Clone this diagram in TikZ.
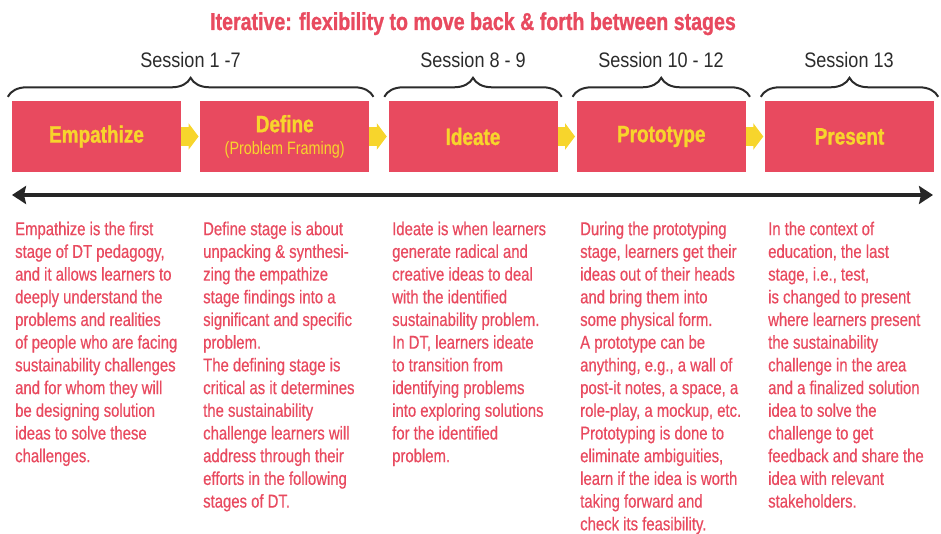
\documentclass[tikz,border=0pt]{standalone}
\usepackage{fontspec}
\setmainfont{Liberation Sans}[FakeStretch=0.8, BoldFeatures={FakeBold=1}]
\newfontfamily\sessfont{Liberation Sans}[FakeStretch=0.86]
\newfontfamily\bodyfont{Liberation Sans}[FakeStretch=0.8, FakeBold=0.5]
\usetikzlibrary{arrows.meta,decorations.pathreplacing}
\definecolor{dtred}{HTML}{E84A5F}
\definecolor{dtyellow}{HTML}{F7D52C}
\definecolor{dtdark}{HTML}{2B2B2B}
\newcommand{\dtsub}{\fontsize{18}{20}\selectfont\mdseries}
\begin{document}
\begin{tikzpicture}[x=1pt,y=-1pt,
  stage/.style={fill=dtred, minimum width=169pt, minimum height=71pt, inner sep=0pt,
    text=dtyellow, font=\fontsize{23.7}{24}\selectfont\bfseries, align=center},
  session/.style={font=\sessfont\fontsize{21}{24}\selectfont, text=dtdark, inner sep=0pt, anchor=base},
  bracebar/.style={decorate, decoration={brace, amplitude=19pt}, line width=2pt, draw=dtdark},
  ylarrow/.style={draw=dtyellow, line width=19pt, -{Triangle[length=10pt,width=26pt]}, shorten >=1.5pt},
  backforth/.style={draw=black!85, line width=3.5pt,
    {Stealth[length=14pt,width=18pt,inset=2pt]}-{Stealth[length=14pt,width=18pt,inset=2pt]}},
  body/.style={font=\bodyfont\fontsize{18.6}{22.7}\selectfont, text=dtred, align=left, anchor=north west, inner sep=0pt},
  titletext/.style={font=\fontsize{24.5}{28}\selectfont\bfseries, text=dtred, inner sep=0pt, anchor=base}
]
\useasboundingbox (0,0) rectangle (941,534);

% title
\node[titletext] (title) at (473,30) {Iterative: flexibility to move back \& forth between stages};

% stage boxes
\node[stage] (emp) at (96.5,136.5) {Empathize};
\node[stage] (def) at (284.75,136.5) {Define\\[-2pt]{\dtsub (Problem Framing)}};
\node[stage] (ide) at (473,136.5) {Ideate};
\node[stage] (pro) at (661.25,136.5) {Prototype};
\node[stage] (pre) at (849.5,136.5) {Present};

% yellow arrows between stages
\draw[ylarrow] (emp.east) -- (def.west);
\draw[ylarrow] (def.east) -- (ide.west);
\draw[ylarrow] (ide.east) -- (pro.west);
\draw[ylarrow] (pro.east) -- (pre.west);

% braces
\draw[bracebar] ([shift={(-4pt,4pt)}]emp.north west) -- ([shift={(4pt,4pt)}]def.north east);
\draw[bracebar] ([shift={(-4pt,4pt)}]ide.north west) -- ([shift={(4pt,4pt)}]ide.north east);
\draw[bracebar] ([shift={(-4pt,4pt)}]pro.north west) -- ([shift={(4pt,4pt)}]pro.north east);
\draw[bracebar] ([shift={(-4pt,4pt)}]pre.north west) -- ([shift={(4pt,4pt)}]pre.north east);

% session labels
\node[session] (s1) at (190.5,68) {Session 1 -7};
\node[session] (s2) at (473,68) {Session 8 - 9};
\node[session] (s3) at (661,68) {Session 10 - 12};
\node[session] (s4) at (849,68) {Session 13};

% back and forth arrow
\coordinate (bfl) at (12,195);
\coordinate (bfr) at (933,195);
\draw[backforth] (bfl) -- (bfr);

% descriptions
\node[body] (t1) at (15,221.5) {Empathize is the first\\stage of DT pedagogy,\\and it allows learners to\\deeply understand the\\problems and realities\\of people who are facing\\sustainability challenges\\and for whom they will\\be designing solution\\ideas to solve these\\challenges.};
\node[body] (t2) at (203,221.5) {Define stage is about\\unpacking \& synthesi-\\zing the empathize\\stage findings into a\\significant and specific\\problem.\\The defining stage is\\critical as it determines\\the sustainability\\challenge learners will\\address through their\\efforts in the following\\stages of DT.};
\node[body] (t3) at (392,221.5) {Ideate is when learners\\generate radical and\\creative ideas to deal\\with the identified\\sustainability problem.\\In DT, learners ideate\\to transition from\\identifying problems\\into exploring solutions\\for the identified\\problem.};
\node[body] (t4) at (580,221.5) {During the prototyping\\stage, learners get their\\ideas out of their heads\\and bring them into\\some physical form.\\A prototype can be\\anything, e.g., a wall of\\post-it notes, a space, a\\role-play, a mockup, etc.\\Prototyping is done to\\eliminate ambiguities,\\learn if the idea is worth\\taking forward and\\check its feasibility.};
\node[body] (t5) at (768,221.5) {In the context of\\education, the last\\stage, i.e., test,\\is changed to present\\where learners present\\the sustainability\\challenge in the area\\and a finalized solution\\idea to solve the\\challenge to get\\feedback and share the\\idea with relevant\\stakeholders.};
\end{tikzpicture}
\end{document}
